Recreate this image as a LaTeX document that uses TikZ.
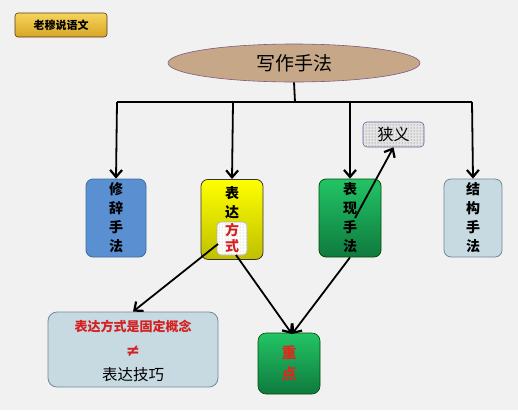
\documentclass[tikz,border=0pt]{standalone}
\usepackage{fontspec}
\newfontfamily\cjk{Noto Sans CJK SC}
\newfontfamily\dvs{DejaVu Sans}
\usetikzlibrary{arrows.meta,shapes.geometric,patterns}
\definecolor{bgc}{HTML}{F1F1F1}
\definecolor{blueb}{HTML}{5A8FD2}
\definecolor{bluebd}{HTML}{3E6C9E}
\definecolor{grayb}{HTML}{C7DAE2}
\definecolor{graybd}{HTML}{6E8A96}
\definecolor{eltan}{HTML}{C6A888}
\definecolor{redt}{HTML}{D42020}
\definecolor{goldt}{HTML}{F5D45A}
\definecolor{goldb}{HTML}{D8A526}
\definecolor{grnt}{HTML}{22C465}
\definecolor{grnb}{HTML}{0F7A3E}
\tikzset{
  x=1pt, y=-1pt,
  vbox/.style={draw, rounded corners=7pt, line width=0.8pt, minimum width=60pt, minimum height=78pt, inner sep=0pt, align=center, font=\cjk\fontsize{14}{19}\selectfont\bfseries},
  conn/.style={line width=1.8pt, -{Straight Barb[length=7pt,width=12pt,line width=2.2pt]}},
  busline/.style={line width=1.8pt},
}
\begin{document}
\begin{tikzpicture}
\fill[bgc] (0,0) rectangle (518,410);
\useasboundingbox (0,0) rectangle (518,410);

% badge
\node[draw=black!55!brown, line width=0.6pt, rounded corners=3pt, top color=goldt, bottom color=goldb, minimum width=92pt, minimum height=24pt, inner sep=0pt, font=\cjk\fontsize{11}{12}\selectfont\bfseries] (badge) at (61,25) {老穆说语文};

% title ellipse
\node[ellipse, draw=gray!70!violet, line width=0.6pt, fill=eltan, minimum width=252pt, minimum height=38pt, inner sep=0pt, font=\cjk\fontsize{19}{21}\selectfont] (title) at (294,63) {写作手法};

% bus
\coordinate (bt) at (295,102);
\coordinate (b1) at (117,102);
\coordinate (b2) at (233,102);
\coordinate (b3) at (350,102);
\coordinate (b4) at (472,102);
\draw[busline] (title.south) -- (bt);
\draw[busline] (b1) -- (b4);

% boxes
\node[vbox, draw=bluebd, fill=blueb, minimum width=60pt] (xiuci) at (116,218) {修\\辞\\手\\法};
\node[vbox, draw=gray!40!black, top color=yellow, bottom color=yellow!75!black, minimum width=62pt, minimum height=80pt, anchor=north] (biaoda) at (232,179) {};
\node[font=\cjk\fontsize{14}{19}\selectfont\bfseries, align=center, anchor=north] (biaodat) at (232,183) {表\\达};
\node[draw=gray!60, rounded corners=4pt, line width=0.6pt, minimum width=30pt, minimum height=33pt, inner sep=0pt, preaction={fill=white}, pattern=dots, pattern color=gray!70, align=center, text=redt, font=\cjk\fontsize{14}{16}\selectfont\bfseries] (fangshi) at (232,238.5) {方\\式};
\node[vbox, draw=green!30!black, top color=grnt, bottom color=grnb, minimum width=62pt] (biaoxian) at (350,218) {表\\现\\手\\法};
\node[vbox, draw=graybd, fill=grayb, minimum width=58pt] (jiegou) at (473,218) {结\\构\\手\\法};

% narrow sense box
\node[draw=gray!80!blue, rounded corners=4pt, line width=0.6pt, minimum width=61pt, minimum height=25pt, inner sep=0pt, preaction={fill=gray!20}, pattern=dots, pattern color=gray!80!black, font=\cjk\fontsize{16}{18}\selectfont] (xiayi) at (393.5,134.5) {狭义};

% bottom boxes
\node[draw=graybd, fill=grayb, rounded corners=9pt, line width=0.8pt, minimum width=170pt, minimum height=75pt, inner sep=0pt] (concept) at (133,349.5) {};
\node[text=redt, font=\cjk\fontsize{13}{15}\selectfont\bfseries] (c1) at (133,326) {表达方式是固定概念};
\node[text=redt, font=\dvs\fontsize{17}{18}\selectfont\bfseries] (c2) at (133,351) {≠};
\node[font=\cjk\fontsize{15.5}{17}\selectfont] (c3) at (133,375) {表达技巧};

\node[draw=green!30!black, rounded corners=8pt, line width=0.6pt, top color=grnt, bottom color=grnb, minimum width=62pt, minimum height=61pt, inner sep=0pt, align=center, text=redt!90!orange, font=\cjk\fontsize{15}{21}\selectfont\bfseries] (zhongdian) at (289,363.5) {重\\点};

% arrows down
\draw[conn] (b1) -- (xiuci.north);
\draw[conn] (b2) -- (biaoda.north);
\draw[conn] (b3) -- (biaoxian.north);
\draw[conn] (b4) -- (jiegou.north);

% other arrows
\coordinate (bx) at (355,218);
\draw[conn] (bx) -- (xiayi.south);
\coordinate (fs1) at (218,244);
\coordinate (fs2) at (236,255);
\coordinate (zd) at (292,334);
\draw[conn] (fs1) -- (concept.north);
\draw[conn] (fs2) -- (zd);
\draw[conn] (biaoxian.south) -- (zd);
\end{tikzpicture}
\end{document}
